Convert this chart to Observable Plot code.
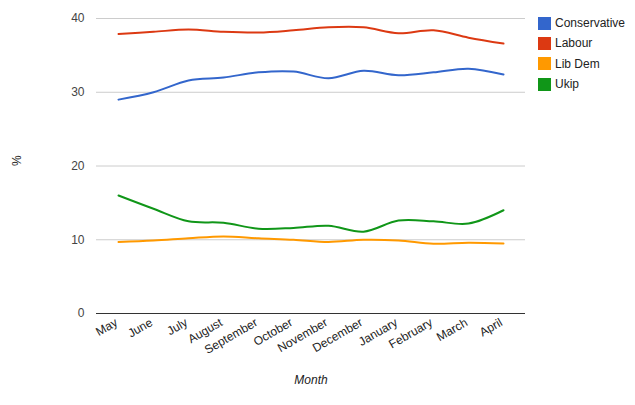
<!DOCTYPE html>
<html><head><meta charset="utf-8">
<script src="https://cdn.jsdelivr.net/npm/d3@7"></script>
<script src="https://cdn.jsdelivr.net/npm/@observablehq/plot@0.6"></script>
<style>
body{margin:0;background:#fff;font-family:"Liberation Sans",Arial,sans-serif;}
#wrap{position:relative;width:635px;height:405px;}
#legend{position:absolute;left:538px;top:13px;font-size:12px;color:#222;}
.item{display:flex;align-items:center;height:20.3px;}
.sw{width:13px;height:13px;margin-right:4px;}
</style>
</head><body>
<div id="wrap"><div id="chart"></div><div id="legend"></div></div>
<script>
const months = ["May","June","July","August","September","October","November","December","January","February","March","April"];
const series = ["Conservative","Labour","Lib Dem","Ukip"];
const colors = ["#3366cc","#dc3912","#ff9900","#109618"];
const conservative = [29.0,30.0,31.6,32.0,32.7,32.8,31.9,32.9,32.3,32.7,33.2,32.4];
const labour = [37.9,38.2,38.5,38.2,38.1,38.4,38.8,38.8,38.0,38.4,37.4,36.6];
const libdem = [9.7,9.9,10.2,10.45,10.2,10.0,9.7,10.0,9.9,9.45,9.6,9.5];
const ukip = [16.0,14.2,12.5,12.3,11.5,11.6,11.9,11.1,12.6,12.5,12.2,14.0];
const yTicks = [0,10,20,30,40];

const vals = [conservative, labour, libdem, ukip];
const data = [];
series.forEach((s,i)=>months.forEach((m,j)=>data.push({series:s, month:m, value:vals[i][j]})));

const chart = Plot.plot({
  width: 635, height: 405,
  marginLeft: 96, marginRight: 110, marginTop: 18, marginBottom: 92,
  style: {fontFamily: '"Liberation Sans", Arial, sans-serif', fontSize: "12px", color: "#444"},
  x: {type: "point", domain: months, padding: 0.5, label: null},
  y: {domain: [0,40], label: null},
  color: {domain: series, range: colors},
  marks: [
    Plot.gridY(yTicks, {stroke: "#cccccc", strokeOpacity: 1}),
    Plot.ruleY([0], {stroke: "#333"}),
    Plot.axisY(yTicks, {tickSize: 0, tickPadding: 12, label: null, fill: "#444"}),
    Plot.axisX({tickSize: 0, tickPadding: 8, tickRotate: -30, label: null, fill: "#222", dx: -2}),
    Plot.text(["%"], {frameAnchor: "left", dx: -79, rotate: -90, fontSize: 12, fill: "#222"}),
    Plot.text(["Month"], {frameAnchor: "bottom", dy: 70, fontStyle: "italic", fontSize: 12, fill: "#222"}),
    Plot.line(data, {x: "month", y: "value", z: "series", stroke: "series", strokeWidth: 2, curve: "catmull-rom"})
  ]
});
document.getElementById("chart").appendChild(chart);

const leg = document.getElementById("legend");
series.forEach((s,i)=>{
  const d = document.createElement("div"); d.className="item";
  d.innerHTML = `<span class="sw" style="background:${colors[i]}"></span><span>${s}</span>`;
  leg.appendChild(d);
});
</script>
</body></html>
